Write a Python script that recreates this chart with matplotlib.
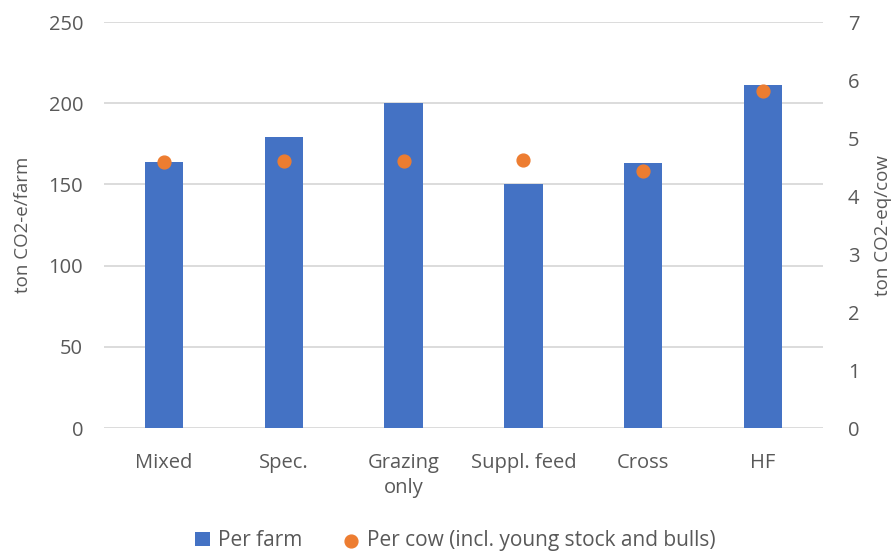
import matplotlib.pyplot as plt
import numpy as np

plt.rcParams['font.family'] = ['Open Sans', 'DejaVu Sans']

# --- data ---
categories = ["Mixed", "Spec.", "Grazing\nonly", "Suppl. feed", "Cross", "HF"]
per_farm = [164, 179, 200, 150, 163, 211]
per_cow = [4.58, 4.60, 4.60, 4.62, 4.44, 5.82]

grey = "#595959"
grid_col = "#d9d9d9"
fs = 14.5

fig = plt.figure(figsize=(8.96, 5.53), dpi=100)
ax = fig.add_axes([0.116, 0.226, 0.8025, 0.734])
ax2 = ax.twinx()

x = np.arange(len(categories))
ax.bar(x, per_farm, width=0.32, color="#4472C4", zorder=2, label="Per farm")
ax2.scatter(x, per_cow, s=85, color="#ED7D31", zorder=3,
            label="Per cow (incl. young stock and bulls)")

ax.set_xlim(-0.5, len(categories) - 0.5)
ax.set_ylim(0, 250)
ax.set_yticks(range(0, 251, 50))
ax2.set_ylim(0, 7)
ax2.set_yticks(range(0, 8))

ax.yaxis.grid(True, color=grid_col, linewidth=1.3, zorder=0)
ax.set_axisbelow(True)

for a in (ax, ax2):
    for s in a.spines.values():
        s.set_visible(False)
    a.tick_params(length=0, colors=grey, labelsize=fs)

ax.tick_params(axis="y", pad=15)
ax2.tick_params(axis="y", pad=18)
ax.set_xticks(x)
ax.set_xticklabels(categories, linespacing=1.3)
ax.tick_params(axis="x", pad=18)

ax.set_ylabel("ton CO2-e/farm", color=grey, fontsize=13.5)
ax2.set_ylabel("ton CO2-eq/cow", color=grey, fontsize=13.5)
ax.yaxis.set_label_coords(-0.100, 0.5)
ax2.yaxis.set_label_coords(1.071, 0.5)

h1, l1 = ax.get_legend_handles_labels()
h2, l2 = ax2.get_legend_handles_labels()
fig.legend(h1 + h2, l1 + l2, loc="center", bbox_to_anchor=(0.508, 0.022),
           ncol=2, frameon=False, fontsize=15, labelcolor=grey,
           handlelength=0.7, handletextpad=0.4, columnspacing=2.0)

fig.savefig("out.png", dpi=100)
